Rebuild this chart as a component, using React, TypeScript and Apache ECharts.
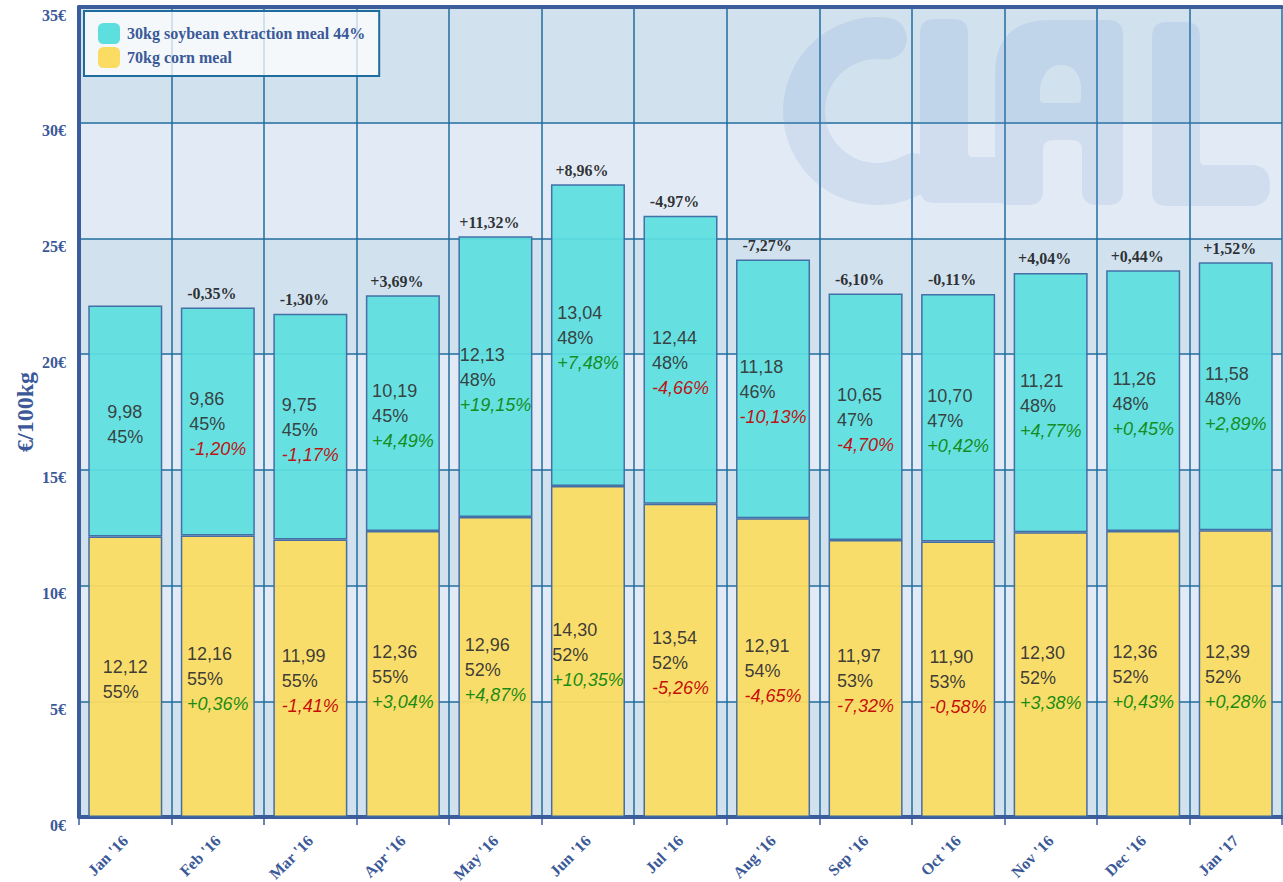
import React, { useEffect, useRef } from 'react';
import * as echarts from 'echarts';

const categories = ["Jan '16", "Feb '16", "Mar '16", "Apr '16", "May '16", "Jun '16", "Jul '16", "Aug '16", "Sep '16", "Oct '16", "Nov '16", "Dec '16", "Jan '17"];
const soyValues = [9.98, 9.86, 9.75, 10.19, 12.13, 13.04, 12.44, 11.18, 10.65, 10.7, 11.21, 11.26, 11.58];
const cornValues = [12.12, 12.16, 11.99, 12.36, 12.96, 14.3, 13.54, 12.91, 11.97, 11.9, 12.3, 12.36, 12.39];
const soyShare = [45, 45, 45, 45, 48, 48, 48, 46, 47, 47, 48, 48, 48];
const cornShare = [55, 55, 55, 55, 52, 52, 52, 54, 53, 53, 52, 52, 52];
const soyChange: (number | null)[] = [null, -1.2, -1.17, 4.49, 19.15, 7.48, -4.66, -10.13, -4.7, 0.42, 4.77, 0.45, 2.89];
const cornChange: (number | null)[] = [null, 0.36, -1.41, 3.04, 4.87, 10.35, -5.26, -4.65, -7.32, -0.58, 3.38, 0.43, 0.28];
const totalChange: (number | null)[] = [null, -0.35, -1.3, 3.69, 11.32, 8.96, -4.97, -7.27, -6.1, -0.11, 4.04, 0.44, 1.52];
const yTickLabelSuffix = '€';

const SOY_NAME = '30kg soybean extraction meal 44%';
const CORN_NAME = '70kg corn meal';

const LOGO_PATH =
  'M 924 192.4 A 94 94 0 1 1 888.5 17.7 A 21 21 0 0 1 883.3 59.4 A 52 52 0 1 0 903 156 A 21 21 0 0 1 924 192.4 Z ' +
  'M 935 19 L 953 19 Q 968 19 968 34 L 968 152 Q 968 157 973 157 L 1025 157 Q 1040 157 1040 172 L 1040 188 Q 1040 203 1025 203 L 935 203 Q 920 203 920 188 L 920 34 Q 920 19 935 19 Z ' +
  'M 1050 20 L 1108 20 Q 1123 20 1123 35 L 1123 190 Q 1123 205 1108 205 L 1097 205 Q 1082 205 1082 190 L 1082 150 Q 1082 140 1072 140 L 1053 140 Q 1043 140 1043 150 L 1043 190 Q 1043 205 1028 205 L 1010 205 Q 995 205 995 190 L 995 75 Q 995 20 1050 20 Z ' +
  'M 1044 103 L 1077 103 Q 1081 103 1081 99 L 1081 85 Q 1078 65 1061 65 Q 1044 65 1040 88 L 1040 99 Q 1040 103 1044 103 Z ' +
  'M 1167 22 L 1185 22 Q 1200 22 1200 37 L 1200 160 Q 1200 165 1205 165 L 1250 165 Q 1270 165 1270 185 L 1270 186 Q 1270 206 1250 206 L 1167 206 Q 1152 206 1152 191 L 1152 37 Q 1152 22 1167 22 Z';

let logoRegistered = false;
function registerLogo() {
  if (logoRegistered) return;
  echarts.graphic.registerShape('clalLogo', (echarts.graphic as any).extendPath(LOGO_PATH, {}));
  logoRegistered = true;
}

const fmt = (v: number) => v.toFixed(2).replace('.', ',');
const fmtPct = (v: number) => (v > 0 ? '+' : '') + v.toFixed(2).replace('.', ',') + '%';

const serif = "'Liberation Serif', 'Times New Roman', serif";
const sans = "'Liberation Sans', Arial, sans-serif";
const axisBlue = '#3b5d9c';
const gridBlue = '#1f6c9e';
const labelBlue = '#3b5998';

const baseRich = {
  v: { fontFamily: sans, fontSize: 18, color: '#333333', lineHeight: 25, align: 'left', textBorderWidth: 0 },
  up: { fontFamily: sans, fontSize: 18, color: '#0c860c', fontStyle: 'italic', lineHeight: 25, align: 'left', textBorderWidth: 0 },
  down: { fontFamily: sans, fontSize: 18, color: '#c40000', fontStyle: 'italic', lineHeight: 25, align: 'left', textBorderWidth: 0 },
};

function makeLabel(values: number[], share: number[], change: (number | null)[], i: number) {
  let s = `{v|${fmt(values[i])}}\n{v|${share[i]}%}`;
  const c = change[i];
  if (c != null) s += `\n{${c >= 0 ? 'up' : 'down'}|${fmtPct(c)}}`;
  return s;
}

export default function App() {
  const ref = useRef<HTMLDivElement>(null);
  useEffect(() => {
    if (!ref.current) return;
    registerLogo();
    const chart = echarts.init(ref.current, undefined, { renderer: 'svg' });
    const totals = soyValues.map((v, i) => +(v + cornValues[i]).toFixed(2));
    const option: any = {
      animation: false,
      grid: { left: 79, right: 1, top: 7, bottom: 65, outerBoundsMode: 'none' },
      graphic: {
        elements: [
          {
            type: 'clalLogo',
            x: 0,
            y: 0,
            z: 1,
            silent: true,
            style: { fill: 'rgba(100,150,210,0.15)' },
          },
        ],
      },
      legend: {
        data: [SOY_NAME, CORN_NAME],
        orient: 'vertical',
        left: 84,
        top: 11,
        padding: [12, 14, 8, 14],
        itemWidth: 22,
        itemHeight: 21,
        itemGap: 3,
        icon: 'roundRect',
        backgroundColor: 'rgba(255,255,255,0.75)',
        borderColor: '#1f6c9e',
        borderWidth: 2,
        itemStyle: { borderWidth: 0, opacity: 1 },
        textStyle: { fontFamily: serif, fontWeight: 'bold', fontSize: 16, color: labelBlue, padding: [0, 0, 0, 2] },
        z: 10,
      },
      xAxis: [
        {
          type: 'category',
          data: categories,
          position: 'bottom',
          axisLine: { show: true, lineStyle: { color: axisBlue, width: 4 } },
          axisTick: { show: true, length: 8, lineStyle: { color: axisBlue, width: 1.5 } },
          axisLabel: {
            rotate: 45,
            margin: 21,
            interval: 0,
            fontFamily: serif,
            fontWeight: 'bold',
            fontSize: 16,
            color: labelBlue,
          },
          splitLine: { show: true, interval: 0, lineStyle: { color: gridBlue, width: 1.5 } },
        },
        {
          type: 'category',
          data: categories,
          position: 'top',
          axisLine: { show: true, onZero: false, lineStyle: { color: axisBlue, width: 4 } },
          axisTick: { show: false },
          axisLabel: { show: false },
          splitLine: { show: false },
        },
      ],
      yAxis: {
        type: 'value',
        min: 0,
        max: 35,
        interval: 5,
        name: '€/100kg',
        nameLocation: 'middle',
        nameGap: 42,
        nameMoveOverlap: false,
        nameTextStyle: { fontFamily: serif, fontWeight: 'bold', fontSize: 24, color: labelBlue },
        axisLine: { show: true, lineStyle: { color: axisBlue, width: 4 } },
        axisTick: { show: false },
        axisLabel: {
          formatter: '{value}' + yTickLabelSuffix,
          fontFamily: serif,
          fontWeight: 'bold',
          fontSize: 16,
          color: labelBlue,
          verticalAlign: 'top',
          margin: 13,
        },
        splitLine: { show: true, lineStyle: { color: gridBlue, width: 1.5 } },
        splitArea: { show: true, areaStyle: { color: ['#d1e1ee', '#e2eaf5'] } },
      },
      series: [
        {
          name: CORN_NAME,
          type: 'bar',
          stack: 'total',
          data: cornValues,
          barWidth: '80%',
          itemStyle: { color: '#fadc62', borderColor: '#3d67a3', borderWidth: 1.5, opacity: 0.95 },
          label: {
            show: true,
            position: 'inside',
            offset: [0, 3],
            textBorderWidth: 0,
            formatter: (p: any) => makeLabel(cornValues, cornShare, cornChange, p.dataIndex),
            rich: baseRich,
          },
          z: 2,
        },
        {
          name: SOY_NAME,
          type: 'bar',
          stack: 'total',
          data: soyValues,
          barWidth: '80%',
          itemStyle: { color: '#5ddfdf', borderColor: '#3d67a3', borderWidth: 1.5, opacity: 0.93 },
          label: {
            show: true,
            position: 'inside',
            offset: [0, 3],
            textBorderWidth: 0,
            formatter: (p: any) => makeLabel(soyValues, soyShare, soyChange, p.dataIndex),
            rich: baseRich,
          },
          z: 2,
        },
        {
          type: 'scatter',
          data: totals,
          symbolSize: 0,
          silent: true,
          label: {
            show: true,
            position: 'top',
            distance: 6,
            offset: [-6, 0],
            formatter: (p: any) => {
              const c = totalChange[p.dataIndex];
              return c == null ? '' : fmtPct(c);
            },
            fontFamily: serif,
            fontWeight: 'bold',
            fontSize: 16,
            color: '#000000',
          },
          z: 5,
        },
      ],
    };
    chart.setOption(option);
    return () => chart.dispose();
  }, []);
  return (
    <div
      ref={ref}
      style={{ position: 'absolute', left: 0, top: 0, width: 1283, height: 882 }}
    />
  );
}
